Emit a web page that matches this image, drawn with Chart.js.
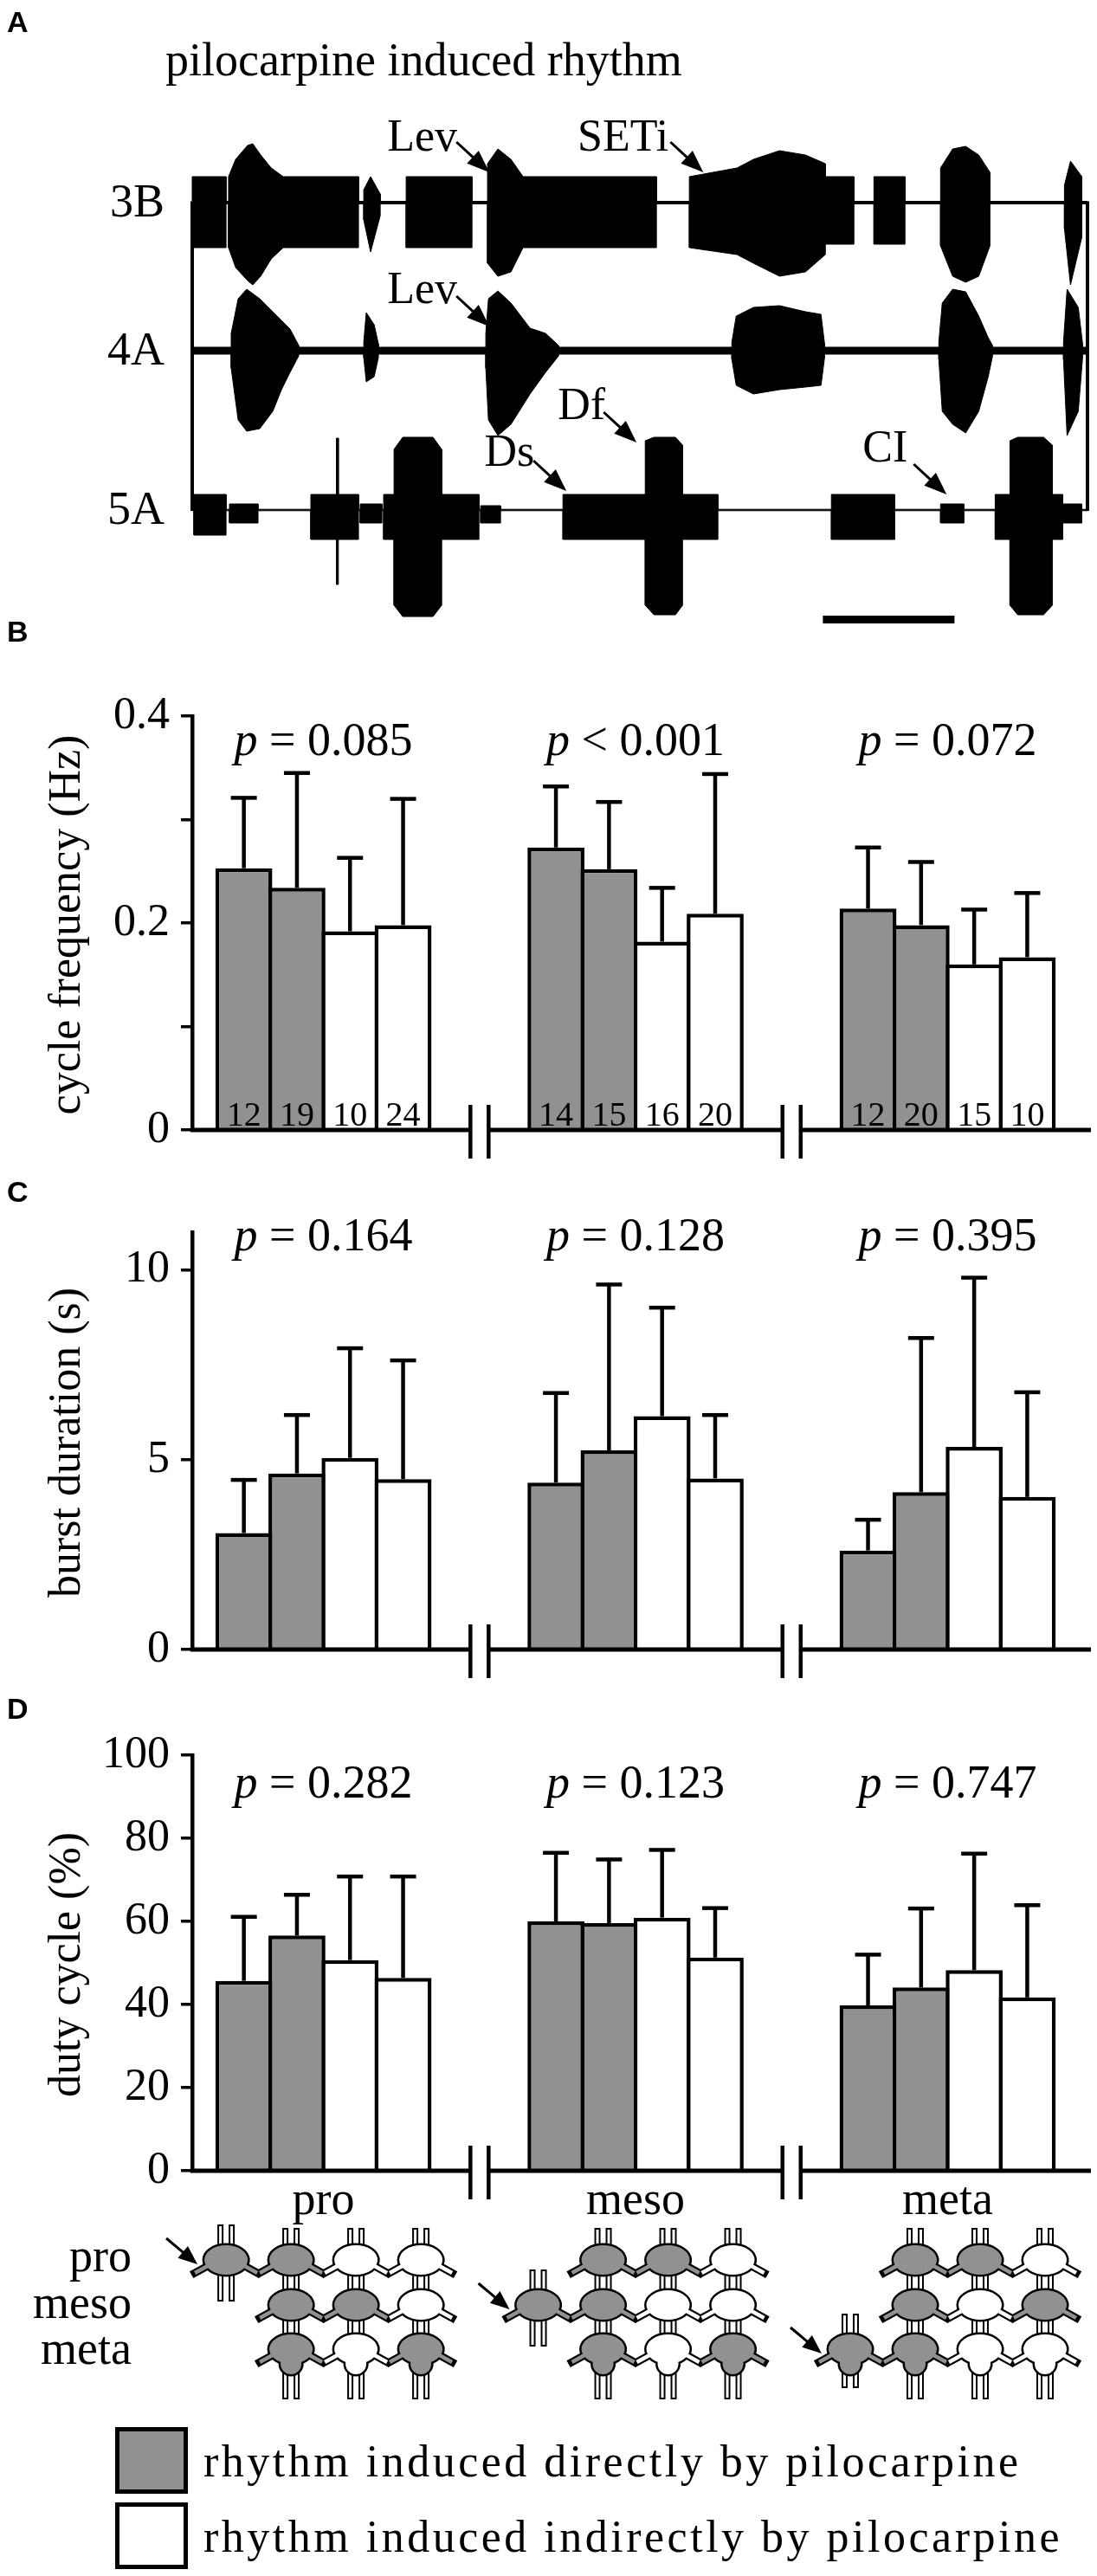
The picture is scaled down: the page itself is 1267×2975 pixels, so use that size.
<!DOCTYPE html>
<html><head><meta charset="utf-8">
<script src="https://cdn.jsdelivr.net/npm/chart.js@4.4.1/dist/chart.umd.min.js"></script>
<style>
html,body{margin:0;padding:0;background:#fff}
#page{position:relative;width:1267px;height:2975px;background:#fff;overflow:hidden}
#page canvas{position:absolute;left:0}
</style></head><body>
<div id="page">
<canvas id="panelA" width="1267" height="740" style="top:0px"></canvas>
<canvas id="panelB" width="1267" height="650" style="top:700px"></canvas>
<canvas id="panelC" width="1267" height="600" style="top:1350px"></canvas>
<canvas id="panelD" width="1267" height="1025" style="top:1950px"></canvas>
</div>
<script>
// ================= DATA =================
// Panel A: extracellular recordings, burst envelopes [time s, amplitude up, amplitude down]
const TRACE_NAMES = ['3B', '4A', '5A'];
const RECORDING_S = 68;
const SCALE_BAR_S = 10;
const SCALE_BAR_START_S = 47.9;
const TRACE_3B = [
  [[0,30,52],[2.57,30,52]],
  [[2.76,30,52],[3.3,50,75],[4.2,66,90],[4.6,68,95],[5.2,55,85],[6.0,40,65],[6.91,30,52],[12.63,30,52]],
  [[13.03,15,20],[13.55,30,57],[14.28,10,15]],
  [[16.25,30,52],[21.25,30,52]],
  [[22.43,45,70],[23.22,62,85],[24.21,50,80],[25.13,30,52],[35.26,30,52]],
  [[37.76,30,52],[41.38,40,60],[42.63,50,70],[44.61,60,85],[46.58,55,80],[48.09,45,60],[48.09,30,48],[50.26,30,48]],
  [[51.78,30,48],[54.14,30,48]],
  [[56.84,40,50],[57.76,62,85],[58.75,65,92],[59.74,55,85],[60.59,35,50]],
  [[66.25,20,30],[66.71,48,95],[67.57,30,40]]
];
const TRACE_4A = [
  [[2.96,20,20],[3.49,60,80],[4.14,71,93],[5.13,60,90],[6.12,45,70],[6.78,35,45],[7.43,25,25],[8.09,6,6]],
  [[13.03,10,8],[13.22,44,36],[13.82,30,30],[14.14,8,8]],
  [[22.30,20,20],[22.50,60,80],[23.22,69,98],[24.21,55,85],[25.66,26,50],[26.84,20,25],[27.83,6,6]],
  [[40.99,10,10],[41.32,40,40],[42.63,50,50],[44.61,52,45],[46.58,45,42],[47.76,42,40],[48.03,8,8]],
  [[56.71,10,10],[56.97,55,70],[57.76,71,85],[58.75,68,95],[59.74,40,70],[60.46,15,30],[60.79,6,6]],
  [[66.18,10,10],[66.45,71,98],[67.30,50,70],[67.63,8,8]]
];
const TRACE_5A = [
  [[0.13,18,29],[2.57,18,29]],
  [[2.83,7,15],[5.0,7,15]],
  [[9.01,18,34],[10.95,18,34],[10.95,83,86],[11.1,83,86],[11.1,18,34],[12.63,18,34]],
  [[12.76,7,15],[14.41,7,15]],
  [[14.54,18,34],[15.33,18,34],[15.33,70,110],[15.99,84,123],[18.29,84,123],[18.95,70,110],[18.95,18,34],[21.78,18,34]],
  [[21.91,5,15],[23.42,5,15]],
  [[28.16,18,34],[34.41,18,34],[34.41,80,110],[35.07,84,121],[36.71,84,121],[37.24,75,110],[37.24,18,34],[39.93,18,34]],
  [[48.55,18,34],[53.36,18,34]],
  [[56.84,7,15],[58.62,7,15]],
  [[60.99,18,34],[62.11,18,34],[62.11,80,110],[62.70,84,121],[64.67,84,121],[65.33,75,110],[65.33,18,34],[66.12,18,34],[66.12,7,15],[67.57,7,15]]
];
const TRACE_NOISE = [1.5, 4, 0.8];
const ANNOT_TEXT = ['Lev', 'SETi', 'Lev', 'Df', 'Ds', 'CI'];
const ANNOT_TRACE = [0, 0, 1, 2, 2, 2];
const ANNOT_TIP_T = [22.57, 38.82, 22.57, 33.75, 28.42, 57.30];
const ANNOT_TIP_AMP = [35, 35, 28, 78, 22, 18];
const ANNOT_LABEL_T = [20.13, 36.18, 20.13, 31.38, 25.99, 54.34];
const ANNOT_LABEL_AMP = [60, 60, 55, 105, 51, 56];

// Panels B-D
const SEGMENTS = ['pro', 'meso', 'meta'];
const BAR_INDUCTION = ['direct', 'direct', 'indirect', 'indirect'];
const N_PREPS = [12, 19, 10, 24, 14, 15, 16, 20, 12, 20, 15, 10];
const FREQ_MEAN = [0.253, 0.234, 0.192, 0.198, 0.273, 0.252, 0.182, 0.209, 0.214, 0.198, 0.160, 0.167];
const FREQ_SD   = [0.068, 0.111, 0.071, 0.122, 0.059, 0.065, 0.052, 0.135, 0.059, 0.061, 0.053, 0.062];
const BURST_MEAN = [3.07, 4.64, 5.05, 4.49, 4.40, 5.25, 6.15, 4.51, 2.61, 4.15, 5.34, 4.02];
const BURST_SD   = [1.40, 1.54, 2.89, 3.13, 2.36, 4.37, 2.86, 1.67, 0.81, 4.06, 4.46, 2.76];
const DUTY_MEAN = [45.7, 56.6, 50.7, 46.4, 60.0, 59.6, 60.9, 51.3, 39.8, 44.1, 48.3, 41.7];
const DUTY_SD   = [15.4, 9.8, 20.1, 24.4, 16.5, 15.3, 16.3, 11.9, 12.2, 19.0, 28.0, 22.2];
const P_FREQ  = ['= 0.085', '< 0.001', '= 0.072'];
const P_BURST = ['= 0.164', '= 0.128', '= 0.395'];
const P_DUTY  = ['= 0.282', '= 0.123', '= 0.747'];
const FREQ_TICKS = [0, 0.1, 0.2, 0.3, 0.4];
const FREQ_TICK_LABELS = ['0', '', '0.2', '', '0.4'];
const BURST_TICKS = [0, 5, 10];
const BURST_TICK_LABELS = ['0', '5', '10'];
const DUTY_TICKS = [0, 20, 40, 60, 80, 100];
const DUTY_TICK_LABELS = ['0', '20', '40', '60', '80', '100'];
// ganglion schematics: rows pro/meso/meta, columns of the chain (1 = rhythmic directly)
const DIAGRAM_ACTIVE = [
  [[1,0,0],[1,1,0],[1,0,1]],
  [[1,1,0],[1,0,0],[1,0,1]],
  [[1,1,0],[1,0,1],[1,0,0]]
];
const ROW_LABELS = ['pro', 'meso', 'meta'];
const LEGEND_LABELS = ['rhythm induced directly by pilocarpine', 'rhythm induced indirectly by pilocarpine'];

// ================= STYLE / LAYOUT =================
const SERIF = '"Liberation Serif", "Times New Roman", serif';
const SANS = '"Liberation Sans", Arial, sans-serif';
const GRAY = '#919191';
const TRACE_BASE_PX = [234, 405, 589];
const GROUP_PITCH = 5.88;
const X_MIN = -0.973, X_MAX = 15.96;
const barX = i => Math.floor(i / 4) * GROUP_PITCH + (i % 4);
const groupCenter = g => g * GROUP_PITCH + 1.5;
const breakCenter = g => g * GROUP_PITCH + 3.5 + (GROUP_PITCH - 4) / 2;

function arrow(ctx, x1, y1, x2, y2, head, hw, lw) {
  const a = Math.atan2(y2 - y1, x2 - x1);
  const bx = x2 - head * Math.cos(a), by = y2 - head * Math.sin(a);
  ctx.save();
  ctx.strokeStyle = '#000'; ctx.fillStyle = '#000'; ctx.lineWidth = lw; ctx.lineCap = 'butt';
  ctx.beginPath(); ctx.moveTo(x1, y1); ctx.lineTo(bx + Math.cos(a), by + Math.sin(a)); ctx.stroke();
  ctx.beginPath(); ctx.moveTo(x2, y2);
  ctx.lineTo(bx + hw * Math.sin(a), by - hw * Math.cos(a));
  ctx.lineTo(bx - hw * Math.sin(a), by + hw * Math.cos(a));
  ctx.closePath(); ctx.fill();
  ctx.restore();
}

function panelLabel(ctx, letter, baseline) {
  ctx.save(); ctx.fillStyle = '#000'; ctx.font = 'bold 34px ' + SANS;
  ctx.textAlign = 'left'; ctx.textBaseline = 'alphabetic';
  ctx.fillText(letter, 8, baseline); ctx.restore();
}

// ================= PANEL A =================
function envelope(bursts, noise, side, base) {
  const pts = [{x: 0, y: base + side * noise}];
  bursts.forEach(b => {
    const t0 = b[0][0], t1 = b[b.length - 1][0];
    pts.push({x: t0, y: base + side * noise});
    b.forEach(p => pts.push({x: p[0], y: base + side * Math.max(noise, side > 0 ? p[1] : p[2])}));
    pts.push({x: t1, y: base + side * noise});
  });
  pts.push({x: RECORDING_S, y: base + side * noise});
  return pts;
}

function buildPanelA() {
  const traces = [TRACE_3B, TRACE_4A, TRACE_5A];
  const traceSets = [];
  traces.forEach((tr, k) => {
    const base = -TRACE_BASE_PX[k];
    [1, -1].forEach(side => traceSets.push({
      data: envelope(tr, TRACE_NOISE[k], side, base),
      borderColor: '#000', backgroundColor: '#000', borderWidth: 1,
      pointRadius: 0, tension: 0, fill: {value: base}, clip: false
    }));
  });
  new Chart(document.getElementById('panelA'), {
    type: 'line',
    data: {datasets: traceSets},
    options: {
      responsive: false, animation: false, devicePixelRatio: 1, events: [],
      layout: {padding: {left: 222, right: 11, top: 0, bottom: 0}},
      plugins: {legend: {display: false}, tooltip: {enabled: false}},
      scales: {
        x: {type: 'linear', display: false, min: 0, max: RECORDING_S, offset: false},
        y: {type: 'linear', display: false, min: -740, max: 0}
      }
    },
    plugins: [{
      id: 'tracesDecor',
      afterDraw(chart) {
        const {ctx, scales: {x, y}} = chart;
        const yb = k => y.getPixelForValue(-TRACE_BASE_PX[k]);
        ctx.save();
        ctx.strokeStyle = '#000'; ctx.lineWidth = 4;
        [0, RECORDING_S].forEach(t => {
          ctx.beginPath(); ctx.moveTo(x.getPixelForValue(t), yb(0) - 1.5);
          ctx.lineTo(x.getPixelForValue(t), yb(2) + 1); ctx.stroke();
        });
        ctx.fillStyle = '#000'; ctx.font = '54px ' + SERIF; ctx.textAlign = 'right'; ctx.textBaseline = 'middle';
        TRACE_NAMES.forEach((n, k) => ctx.fillText(n, 190, yb(k) + 2));
        ctx.textAlign = 'left'; ctx.textBaseline = 'alphabetic'; ctx.font = '54px ' + SERIF;
        ctx.fillText('pilocarpine induced rhythm', 191, 87);
        ctx.font = '52px ' + SERIF; ctx.textAlign = 'right';
        ANNOT_TEXT.forEach((txt, i) => {
          const base = -TRACE_BASE_PX[ANNOT_TRACE[i]];
          const tx = x.getPixelForValue(ANNOT_TIP_T[i]), ty = y.getPixelForValue(base + ANNOT_TIP_AMP[i]);
          const lx = x.getPixelForValue(ANNOT_LABEL_T[i]), ly = y.getPixelForValue(base + ANNOT_LABEL_AMP[i]);
          ctx.fillText(txt, lx, ly);
          arrow(ctx, tx - 38, ty - 35, tx, ty, 26, 10, 3);
        });
        ctx.fillStyle = '#000';
        const sx0 = x.getPixelForValue(SCALE_BAR_START_S), sx1 = x.getPixelForValue(SCALE_BAR_START_S + SCALE_BAR_S);
        ctx.fillRect(sx0, 711, sx1 - sx0, 9);
        ctx.restore();
        panelLabel(ctx, 'A', 37);
      }
    }]
  });
}

// ================= PANELS B-D =================
function drawDiagram(ctx, cx, y0, grid, stimRow) {
  const SP = 75, ROW = [y0 + 103, y0 + 155, y0 + 206];
  const colX = c => cx + (c - 1.5) * SP;
  const list = [];
  for (let r = 0; r < 3; r++) for (let c = 1; c <= 3; c++)
    list.push({x: colX(c), y: ROW[r], on: grid[r][c - 1], meta: r === 2});
  const iso = {x: colX(0), y: ROW[stimRow], on: 1, meta: stimRow === 2};
  list.push(iso);
  const rail = (xc, ya, yb) => {
    ctx.fillStyle = '#fff'; ctx.strokeStyle = '#000'; ctx.lineWidth = 2;
    [-6.5, 6.5].forEach(dx => {
      ctx.beginPath(); ctx.rect(xc + dx - 2.5, Math.min(ya, yb), 5, Math.abs(yb - ya));
      ctx.fill(); ctx.stroke();
    });
  };
  ctx.save();
  for (let c = 1; c <= 3; c++) {
    const xc = colX(c);
    rail(xc, ROW[0] - 36, ROW[0] - 8);
    rail(xc, ROW[0] + 8, ROW[1] - 8);
    rail(xc, ROW[1] + 8, ROW[2] - 8);
    rail(xc, ROW[2] + 20, ROW[2] + 57);
  }
  rail(iso.x, iso.y - 40, iso.y - 8);
  rail(iso.x, iso.y + 8, iso.y + (iso.meta ? 44 : 47));
  const shape = (g, pass) => {
    const col = g.on ? GRAY : '#fff';
    ctx.lineCap = pass === 0 ? 'square' : 'butt';
    ctx.strokeStyle = pass === 0 ? '#000' : col;
    ctx.lineWidth = pass === 0 ? 9 : 4.5;
    [-1, 1].forEach(s => {
      ctx.beginPath(); ctx.moveTo(g.x + s * 16, g.y + 4); ctx.lineTo(g.x + s * 36, g.y + 15); ctx.stroke();
    });
    ctx.beginPath(); ctx.ellipse(g.x, g.y, 25, 17, 0, 0, Math.PI * 2);
    if (g.meta) { ctx.moveTo(g.x + 12, g.y + 17); ctx.arc(g.x, g.y + 17, 12, 0, Math.PI * 2); }
    if (pass === 0) { ctx.lineWidth = 5; ctx.strokeStyle = '#000'; ctx.stroke(); }
    else { ctx.fillStyle = col; ctx.fill(); }
  };
  list.forEach(g => shape(g, 0));
  list.forEach(g => shape(g, 1));
  ctx.lineCap = 'butt';
  arrow(ctx, iso.x - 69, iso.y - 25, iso.x - 33, iso.y + 5, 22, 9, 3);
  ctx.restore();
}

function barPanel(id, cfg) {
  const {mean, sd} = cfg;
  new Chart(document.getElementById(id), {
    type: 'bar',
    data: {datasets: [{
      data: mean.map((m, i) => ({x: barX(i), y: m})),
      backgroundColor: mean.map((_, i) => BAR_INDUCTION[i % 4] === 'direct' ? GRAY : '#fff'),
      borderColor: '#000', borderWidth: 4.5, borderSkipped: 'start',
      barPercentage: 1.073, categoryPercentage: 1, inflateAmount: 0
    }]},
    options: {
      responsive: false, animation: false, devicePixelRatio: 1, events: [],
      layout: {padding: {top: cfg.padTop, bottom: cfg.padBottom, left: 0, right: 7}},
      plugins: {legend: {display: false}, tooltip: {enabled: false}},
      scales: {
        x: {type: 'linear', display: false, min: X_MIN, max: X_MAX, offset: false, grid: {offset: false}},
        y: {
          min: 0, max: cfg.yMax,
          afterBuildTicks: ax => { ax.ticks = cfg.ticks.map(v => ({value: v})); },
          afterFit: ax => { ax.width = 222; },
          ticks: {autoSkip: false, color: '#000', font: {family: SERIF, size: 52}, padding: 13,
                  callback: (v, i) => cfg.tickLabels[i]},
          grid: {drawOnChartArea: false, drawTicks: true, tickLength: 13, color: '#000', lineWidth: 3.5},
          border: {display: true, color: '#000', width: 4.5}
        }
      }
    },
    plugins: [{
      id: 'decor',
      afterDatasetsDraw(chart) {
        const {ctx, scales: {y}} = chart;
        const meta = chart.getDatasetMeta(0);
        ctx.save(); ctx.strokeStyle = '#000'; ctx.lineWidth = 4.5; ctx.lineCap = 'butt';
        meta.data.forEach((bar, i) => {
          const yt = y.getPixelForValue(mean[i] + sd[i]);
          ctx.beginPath(); ctx.moveTo(bar.x, bar.y); ctx.lineTo(bar.x, yt); ctx.stroke();
          ctx.beginPath(); ctx.moveTo(bar.x - 15, yt); ctx.lineTo(bar.x + 15, yt); ctx.stroke();
        });
        if (cfg.n) {
          ctx.fillStyle = '#000'; ctx.font = '40px ' + SERIF; ctx.textAlign = 'center'; ctx.textBaseline = 'alphabetic';
          meta.data.forEach((bar, i) => ctx.fillText(String(cfg.n[i]), bar.x, y.getPixelForValue(0) - 5));
        }
        ctx.restore();
      },
      afterDraw(chart) {
        const {ctx, chartArea: ca, scales: {x, y}} = chart;
        const y0 = y.getPixelForValue(0);
        ctx.save();
        ctx.strokeStyle = '#000'; ctx.lineWidth = 5; ctx.lineCap = 'butt';
        const b1 = x.getPixelForValue(breakCenter(0)), b2 = x.getPixelForValue(breakCenter(1));
        const G = 10.5;
        [[ca.left - 2.25, b1 - G], [b1 + G, b2 - G], [b2 + G, ca.right]].forEach(s => {
          ctx.beginPath(); ctx.moveTo(s[0], y0); ctx.lineTo(s[1], y0); ctx.stroke();
        });
        ctx.lineWidth = 4.5;
        [b1, b2].forEach(b => [-G, G].forEach(d => {
          ctx.beginPath(); ctx.moveTo(b + d, y0 - 29); ctx.lineTo(b + d, y0 + 33); ctx.stroke();
        }));
        ctx.fillStyle = '#000'; ctx.textBaseline = 'alphabetic'; ctx.textAlign = 'left';
        cfg.p.forEach((txt, g) => {
          const cx = x.getPixelForValue(groupCenter(g));
          ctx.font = 'italic 54px ' + SERIF; const w1 = ctx.measureText('p').width;
          ctx.font = '54px ' + SERIF; const rest = ' ' + txt; const w2 = ctx.measureText(rest).width;
          const sx = cx - (w1 + w2) / 2, by = ca.top + cfg.pOffset;
          ctx.font = 'italic 54px ' + SERIF; ctx.fillText('p', sx, by);
          ctx.font = '54px ' + SERIF; ctx.fillText(rest, sx + w1, by);
        });
        ctx.save();
        ctx.translate(92, (ca.top + ca.bottom) / 2 + 2); ctx.rotate(-Math.PI / 2);
        ctx.textAlign = 'center'; ctx.font = '52px ' + SERIF; ctx.fillText(cfg.title, 0, 0);
        ctx.restore();
        if (cfg.extras) {
          ctx.textAlign = 'center'; ctx.font = '54px ' + SERIF;
          SEGMENTS.forEach((s, g) => ctx.fillText(s, x.getPixelForValue(groupCenter(g)), y0 + 50));
          ctx.textAlign = 'right';
          ROW_LABELS.forEach((s, r) => ctx.fillText(s, 152, y0 + 116 + r * 53.5));
          SEGMENTS.forEach((s, g) => drawDiagram(ctx, x.getPixelForValue(groupCenter(g)), y0, DIAGRAM_ACTIVE[g], g));
          [GRAY, '#fff'].forEach((c, k) => {
            const top = y0 + 296 + k * 87;
            ctx.fillStyle = '#000'; ctx.fillRect(133, top, 84, 77);
            ctx.fillStyle = c; ctx.fillRect(138, top + 5, 74, 67);
            ctx.fillStyle = '#000'; ctx.textAlign = 'left'; ctx.font = '52px ' + SERIF;
            ctx.letterSpacing = '3.5px';
            ctx.fillText(LEGEND_LABELS[k], 235, top + 57);
            ctx.letterSpacing = '0px';
          });
        }
        ctx.restore();
        panelLabel(ctx, cfg.letter, cfg.letterY);
      }
    }]
  });
}

function buildAll() {
  buildPanelA();
  barPanel('panelB', {mean: FREQ_MEAN, sd: FREQ_SD, n: N_PREPS, yMax: 0.4, ticks: FREQ_TICKS, tickLabels: FREQ_TICK_LABELS,
    padTop: 127, padBottom: 45, p: P_FREQ, pOffset: 45, title: 'cycle frequency (Hz)', letter: 'B', letterY: 41});
  barPanel('panelC', {mean: BURST_MEAN, sd: BURST_SD, yMax: 11, ticks: BURST_TICKS, tickLabels: BURST_TICK_LABELS,
    padTop: 73, padBottom: 45, p: P_BURST, pOffset: 21, title: 'burst duration (s)', letter: 'C', letterY: 38});
  barPanel('panelD', {mean: DUTY_MEAN, sd: DUTY_SD, yMax: 100, ticks: DUTY_TICKS, tickLabels: DUTY_TICK_LABELS,
    padTop: 77, padBottom: 468, p: P_DUTY, pOffset: 49, title: 'duty cycle (%)', letter: 'D', letterY: 35, extras: true});
}
Promise.all([
  document.fonts.load('52px "Liberation Serif"'),
  document.fonts.load('italic 52px "Liberation Serif"'),
  document.fonts.load('bold 34px "Liberation Sans"')
]).catch(() => {}).then(buildAll);
</script>
</body></html>
